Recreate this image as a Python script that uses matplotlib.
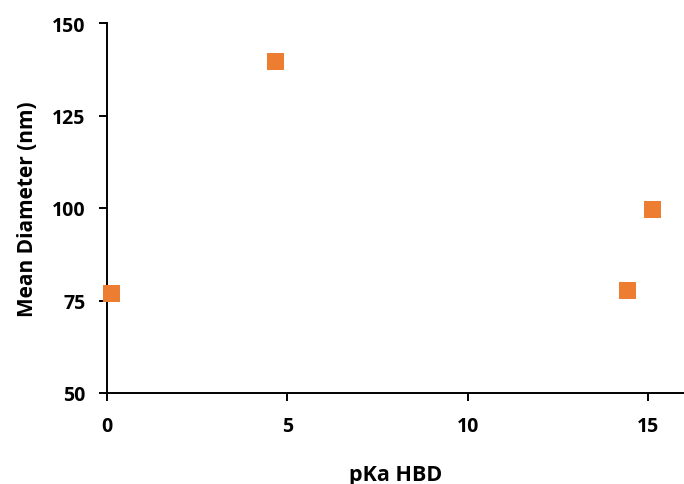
import matplotlib
matplotlib.use("Agg")
from matplotlib import pyplot as plt

# Data
pka_hbd = [0.13, 4.67, 14.42, 15.13]
mean_diameter = [76.8, 139.6, 77.8, 99.6]
x_ticks = [0, 5, 10, 15]
y_ticks = [50, 75, 100, 125, 150]

plt.rcParams['font.family'] = ['Open Sans', 'DejaVu Sans']
plt.rcParams['font.weight'] = 'bold'

fig = plt.figure(figsize=(6.84, 4.85), dpi=100)
ax = fig.add_axes([107/684, 1 - 394/485, 1 - 107/684, (394 - 24)/485])

ax.scatter(pka_hbd, mean_diameter, marker='s', s=150, color='#ED7D31',
           edgecolors='none', zorder=3, clip_on=False)

ax.set_xlim(0, 16)
ax.set_ylim(50, 150)
ax.set_xticks(x_ticks)
ax.set_yticks(y_ticks)

for side in ['top', 'right']:
    ax.spines[side].set_visible(False)
for side in ['left', 'bottom']:
    ax.spines[side].set_linewidth(1.4)
    ax.spines[side].set_color('black')

ax.tick_params(axis='both', direction='out', length=5.5, width=1.4,
               labelsize=14, colors='black')
ax.tick_params(axis='x', pad=11)
ax.tick_params(axis='y', pad=10)
for lbl in ax.get_xticklabels() + ax.get_yticklabels():
    lbl.set_fontweight('bold')

ax.set_xlabel("pKa HBD", fontsize=15.5, fontweight='bold', labelpad=20)
ax.set_ylabel("Mean Diameter (nm)", fontsize=15, fontweight='bold', labelpad=10)

fig.savefig("out.png", dpi=100, facecolor='white')
plt.close(fig)
